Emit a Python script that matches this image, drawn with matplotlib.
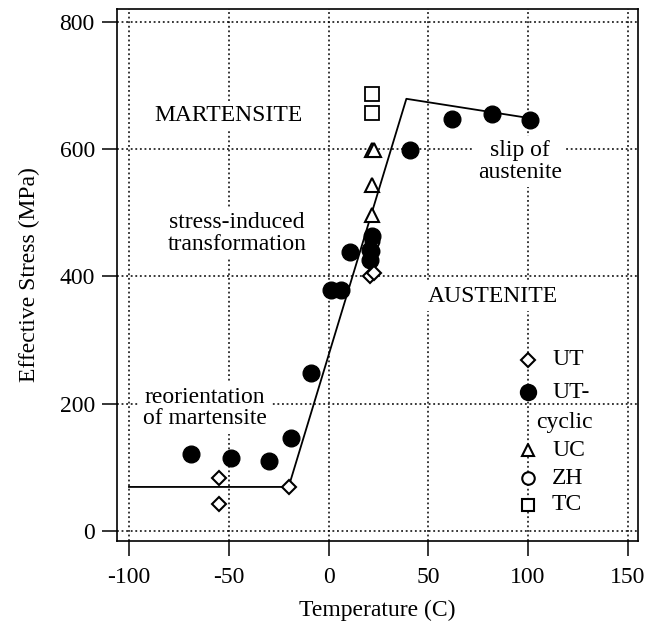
import matplotlib.pyplot as plt

plt.rcParams['font.family'] = ['Liberation Serif', 'DejaVu Serif']
plt.rcParams['axes.unicode_minus'] = False

# bilinear model curve
line_t = [-100, -20, 39, 102]
line_s = [69, 69, 679, 648]

# UT (open diamonds)
ut_t = [-55, -55, -20, 21, 23]
ut_s = [83, 42, 69, 400, 406]

# UT-cyclic (filled circles)
cyc_t = [-69, -49, -30, -19, -9, 1, 6, 11, 22, 21, 21, 41, 62, 82, 101]
cyc_s = [120, 115, 109, 146, 248, 379, 379, 439, 463, 442, 426, 598, 648, 655, 646]

# UC (open triangles)
uc_t = [22, 23, 22, 22]
uc_s = [599, 598, 544, 497]

# ZH (open circles)
zh_t = [22, 22]
zh_s = [455, 440]

# TC (open squares)
tc_t = [22, 22]
tc_s = [686, 657]

fig = plt.figure(figsize=(6.61, 6.31), dpi=100)
ax = fig.add_axes([0.177, 0.1426, 0.788, 0.843])

ax.set_xlim(-106, 155)
ax.set_ylim(-16, 820)

# dotted grid
for gx in [-100, -50, 0, 50, 100, 150]:
    ax.axvline(gx, color='black', ls=(0, (1.2, 1.8)), lw=1.1, zorder=1)
for gy in [0, 200, 400, 600, 800]:
    ax.axhline(gy, color='black', ls=(0, (1.2, 1.8)), lw=1.1, zorder=1)

ax.plot(line_t, line_s, color='black', lw=1.3, zorder=3)

mk = dict(linestyle='none', color='black', zorder=4)
ax.plot(zh_t, zh_s, marker='o', markersize=10, markerfacecolor='white', markeredgewidth=1.5, **mk)
ax.plot(cyc_t, cyc_s, marker='o', markersize=12, markerfacecolor='black', **mk)
ax.plot(ut_t, ut_s, marker='D', markersize=7.5, markerfacecolor='white', markeredgewidth=1.5, **mk)
ax.plot(uc_t, uc_s, marker='^', markersize=10, markerfacecolor='white', markeredgewidth=1.5, **mk)
ax.plot(tc_t, tc_s, marker='s', markersize=10, markerfacecolor='white', markeredgewidth=1.3, **mk)

# region labels
box = dict(facecolor='white', edgecolor='none', pad=3)
fs = 17
ax.text(-50, 652, 'MARTENSITE', ha='center', va='center', fontsize=fs, bbox=box, zorder=2)
ax.text(-46, 467, 'stress-induced\ntransformation', ha='center', va='center',
        fontsize=fs, linespacing=1.05, bbox=box, zorder=2)
ax.text(-62, 193, 'reorientation\nof martensite', ha='center', va='center',
        fontsize=fs, linespacing=1.05, bbox=box, zorder=2)
ax.text(82.5, 368, 'AUSTENITE', ha='center', va='center', fontsize=fs, bbox=box, zorder=2)
ax.text(96, 580, 'slip of\naustenite', ha='center', va='center',
        fontsize=fs, linespacing=1.05, bbox=box, zorder=2)

# legend drawn by hand so "UT-cyclic" can wrap
leg_x, txt_x = 100, 112
rows = [
    (269, 'D', 7.5, 'white', 'UT'),
    (218, 'o', 11, 'black', 'UT-'),
    (127, '^', 9, 'white', 'UC'),
    (83, 'o', 9, 'white', 'ZH'),
    (41, 's', 9, 'white', 'TC'),
]
for yy, m, ms, fc, lab in rows:
    ax.plot([leg_x], [yy], marker=m, markersize=ms, markerfacecolor=fc,
            markeredgecolor='black', markeredgewidth=1.5, zorder=5)
    ax.text(txt_x, yy, lab, ha='left', va='center', fontsize=fs, zorder=4)
ax.text(104, 170, 'cyclic', ha='left', va='center', fontsize=fs, zorder=4)

ax.set_xticks([-100, -50, 0, 50, 100, 150])
ax.set_yticks([0, 200, 400, 600, 800])
ax.tick_params(axis='both', direction='out', length=11, width=1.1, labelsize=fs)
ax.tick_params(axis='x', pad=8)
ax.tick_params(axis='y', pad=5)

for sp in ax.spines.values():
    sp.set_linewidth(1.2)

ax.set_xlabel('Temperature (C)', fontsize=fs, labelpad=8)
ax.set_ylabel('Effective Stress (MPa)', fontsize=fs, labelpad=14)

fig.savefig('out.png', dpi=100)
